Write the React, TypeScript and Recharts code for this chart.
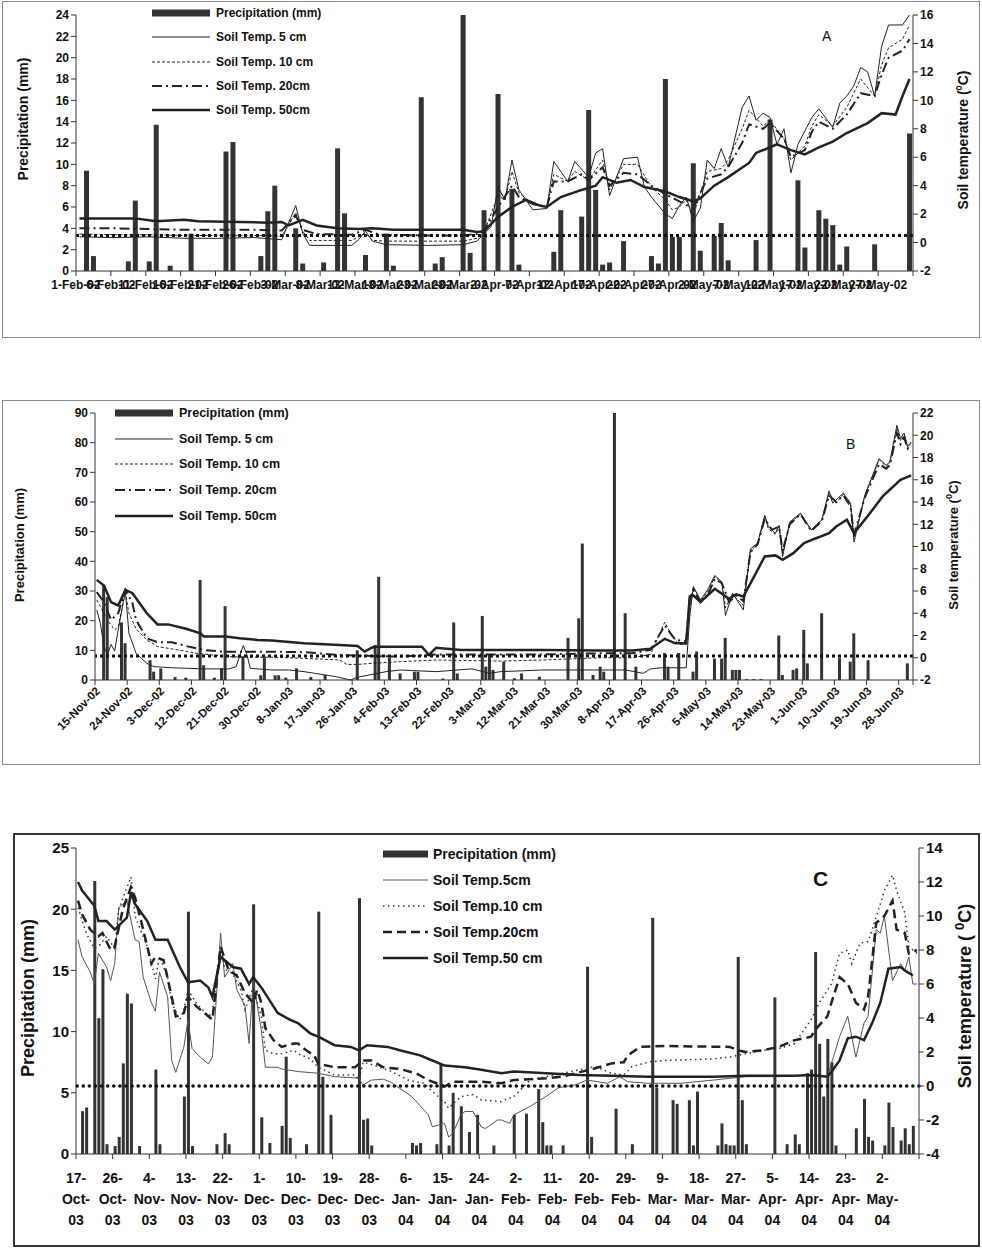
import React from 'react';
import { ComposedChart, Bar, Line, XAxis, YAxis, ReferenceLine, Legend } from 'recharts';

type Pt = [number, number];

const FONT = 'Arial, "Liberation Sans", Helvetica, sans-serif';

// ---------- Panel A: 1-Feb-02 .. 31-May-02 (day 0 = 1 Feb) ----------
const aDays = 120;
const aLabels = ['1-Feb-02', '6-Feb-02', '11-Feb-02', '16-Feb-02', '21-Feb-02', '26-Feb-02', '3-Mar-02', '8-Mar-02',
  '13-Mar-02', '18-Mar-02', '23-Mar-02', '28-Mar-02', '2-Apr-02', '7-Apr-02', '12-Apr-02', '17-Apr-02', '22-Apr-02',
  '27-Apr-02', '2-May-02', '7-May-02', '12-May-02', '17-May-02', '22-May-02', '27-May-02'];
const aPrecipTicks = [0, 2, 4, 6, 8, 10, 12, 14, 16, 18, 20, 22, 24];
const aTempTicks = [-2, 0, 2, 4, 6, 8, 10, 12, 14, 16];
const aPrecip: Pt[] = [[1, 9.4], [2, 1.4], [7, 0.9], [8, 6.6], [10, 0.9], [11, 13.7], [13, 0.5], [16, 3.5], [21, 11.2],
  [22, 12.1], [26, 1.4], [27, 5.6], [28, 8.0], [31, 4.0], [32, 0.7], [35, 0.8], [37, 11.5], [38, 5.4], [41, 1.5],
  [44, 3.5], [45, 0.5], [49, 16.3], [51, 0.7], [52, 1.3], [55, 24.0], [56, 1.7], [58, 5.7], [60, 16.6], [62, 7.7],
  [63, 0.6], [68, 1.8], [69, 5.7], [72, 5.1], [73, 15.1], [74, 7.6], [75, 0.6], [76, 0.8], [78, 2.8], [82, 1.4],
  [83, 0.7], [84, 18.0], [85, 3.2], [86, 3.2], [88, 10.1], [89, 1.9], [91, 3.3], [92, 4.5], [93, 1.0], [97, 2.9],
  [99, 14.2], [103, 8.5], [104, 2.2], [106, 5.7], [107, 4.9], [108, 4.3], [109, 0.6], [110, 2.3], [114, 2.5], [119, 12.9]];
const aT5: Pt[] = [[0, 0.4], [5, 0.35], [10, 0.4], [15, 0.3], [20, 0.3], [25, 0.35], [29, 0.2], [31, 2.6], [32, 0.65],
  [33, -0.2], [39, -0.2], [40, 0.2], [41, 0.8], [42, 0.1], [44, -0.15], [50, -0.2], [55, -0.15], [57, 0.1], [58, 0.65],
  [59, 1.1], [60, 3.9], [61, 3.0], [62, 5.8], [63, 3.7], [64, 3.0], [65, 2.3], [67, 2.4], [68, 5.7], [70, 4.3], [71, 5.7],
  [73, 4.6], [74, 6.3], [75, 6.6], [76, 3.3], [78, 5.9], [80, 6.0], [81, 3.9], [82, 3.2], [84, 2.0], [85, 1.7], [86, 2.6],
  [87, 3.2], [88, 1.5], [89, 2.4], [90, 5.8], [91, 5.2], [92, 6.6], [93, 5.3], [95, 9.5], [96, 10.3], [97, 8.6], [98, 9.1],
  [99, 8.8], [100, 6.9], [101, 8.0], [102, 4.9], [103, 6.9], [105, 8.8], [106, 9.4], [108, 8.1], [109, 9.8], [110, 10.3],
  [111, 11.0], [112, 12.3], [113, 12.0], [114, 10.3], [115, 13.8], [116, 15.3], [118, 15.3], [119, 16.0]];
const aT10: Pt[] = [[0, 0.6], [5, 0.55], [10, 0.55], [15, 0.5], [20, 0.5], [25, 0.5], [29, 0.45], [31, 2.1], [32, 0.8],
  [33, 0.15], [39, 0.15], [41, 0.65], [42, 0.15], [44, 0.1], [50, 0.1], [55, 0.1], [57, 0.3], [58, 0.7], [60, 3.3],
  [61, 3.0], [62, 5.0], [63, 3.5], [65, 2.7], [67, 2.5], [68, 4.8], [70, 4.3], [71, 5.0], [73, 4.4], [75, 5.8], [76, 3.7],
  [78, 5.5], [80, 5.5], [82, 3.9], [84, 3.0], [85, 2.3], [86, 2.5], [87, 3.0], [88, 1.9], [90, 5.0], [92, 5.2], [93, 5.8],
  [95, 8.0], [96, 9.3], [98, 8.2], [99, 8.6], [101, 7.3], [102, 5.8], [104, 6.8], [105, 8.2], [106, 9.0], [108, 8.2],
  [110, 9.5], [112, 11.5], [114, 10.3], [115, 12.5], [116, 13.7], [118, 14.3], [119, 15.3]];
const aT20: Pt[] = [[0, 1.0], [5, 1.0], [10, 0.95], [15, 0.9], [20, 0.9], [25, 0.9], [29, 0.85], [31, 1.9], [32, 0.9],
  [34, 0.6], [39, 0.55], [41, 0.9], [43, 0.55], [50, 0.5], [55, 0.5], [57, 0.6], [58, 0.8], [60, 2.5], [62, 4.0], [63, 3.2],
  [65, 2.7], [67, 2.5], [68, 4.3], [70, 4.3], [72, 4.8], [73, 4.4], [75, 5.3], [76, 4.0], [78, 4.9], [80, 4.8], [82, 4.0],
  [84, 3.4], [86, 2.9], [88, 2.4], [90, 4.5], [92, 4.8], [93, 5.3], [95, 7.0], [96, 8.3], [98, 8.0], [99, 8.4], [101, 7.3],
  [102, 6.0], [104, 6.5], [105, 7.8], [106, 8.5], [108, 8.0], [110, 9.0], [112, 10.5], [114, 10.3], [115, 11.8],
  [116, 13.0], [118, 13.5], [119, 14.3]];
const aT50: Pt[] = [[0, 1.7], [8, 1.7], [11, 1.5], [15, 1.6], [17, 1.5], [23, 1.45], [27, 1.4], [29, 1.45], [30, 1.2],
  [32, 1.6], [34, 1.2], [37, 1.0], [40, 0.95], [42, 1.0], [45, 0.9], [55, 0.9], [57, 0.75], [58, 0.8], [60, 1.8], [62, 2.5],
  [64, 3.0], [66, 2.6], [67, 2.5], [69, 3.2], [72, 3.7], [74, 4.0], [75, 4.6], [77, 4.2], [79, 4.4], [81, 3.9], [84, 3.6],
  [86, 3.2], [88, 2.9], [89, 3.1], [91, 4.0], [93, 4.6], [96, 5.6], [97, 6.3], [99, 6.7], [100, 6.9], [102, 6.5],
  [104, 6.2], [106, 6.7], [108, 7.1], [110, 7.7], [113, 8.4], [115, 9.1], [117, 9.0], [118, 10.3], [119, 11.5]];

// ---------- Panel B: 15-Nov-02 .. 1-Jul-03 (day 0 = 15 Nov) ----------
const bDays = 229;
const bLabels = ['15-Nov-02', '24-Nov-02', '3-Dec-02', '12-Dec-02', '21-Dec-02', '30-Dec-02', '8-Jan-03', '17-Jan-03',
  '26-Jan-03', '4-Feb-03', '13-Feb-03', '22-Feb-03', '3-Mar-03', '12-Mar-03', '21-Mar-03', '30-Mar-03', '8-Apr-03',
  '17-Apr-03', '26-Apr-03', '5-May-03', '14-May-03', '23-May-03', '1-Jun-03', '10-Jun-03', '19-Jun-03', '28-Jun-03'];
const bPrecipTicks = [0, 10, 20, 30, 40, 50, 60, 70, 80, 90];
const bTempTicks = [-2, 0, 2, 4, 6, 8, 10, 12, 14, 16, 18, 20, 22];
const bPrecip: Pt[] = [[2, 32], [3, 28], [7, 19.4], [8, 12.4], [15, 6.7], [16, 2.8], [18, 3.9], [22, 1.0], [25, 0.8],
  [29, 33.7], [30, 5.0], [33, 0.8], [35, 3.9], [36, 24.9], [41, 8], [46, 1.6], [47, 7.6], [50, 1.6], [51, 1.6], [53, 0.8],
  [56, 3.9], [60, 1.0], [64, 1.7], [73, 10], [78, 11.8], [79, 34.8], [82, 7.5], [85, 2.2], [89, 2.8], [90, 2.8], [97, 0.5],
  [100, 19.4], [101, 2.2], [108, 21.6], [109, 4.5], [110, 8.5], [111, 3.4], [114, 6.2], [117, 0.6], [119, 2.2], [124, 1.1],
  [132, 14.2], [135, 20.8], [136, 46], [139, 1.7], [141, 4.5], [142, 2.8], [145, 90], [148, 22.5], [151, 4.5], [159, 9.1],
  [160, 4.5], [163, 9.1], [167, 2.8], [168, 9.6], [173, 7.2], [175, 7.2], [176, 14.2], [178, 3.4], [179, 3.4], [180, 3.4],
  [182, 0.3], [184, 0.3], [186, 0.3], [191, 15.0], [192, 1.7], [195, 3.4], [196, 3.9], [198, 16.9], [199, 5.6], [203, 22.5],
  [208, 7.5], [211, 6.2], [212, 15.7], [216, 6.7], [227, 5.6]];
const bT5: Pt[] = [[0, 4.3], [1, 3.1], [2, 1.0], [3, 0.3], [4, 1.2], [5, 0.6], [6, 2.5], [8, 6.0], [9, 2.2], [11, 0.4],
  [14, -0.5], [16, -0.8], [21, -0.9], [30, -1.0], [37, -1.0], [39, -0.8], [41, 1.1], [42, 0.3], [43, -0.95], [49, -1.1],
  [54, -1.1], [58, -1.25], [61, -1.4], [67, -1.7], [71, -2.0], [73, -1.75], [77, -1.5], [81, -1.25], [85, -1.1],
  [95, -1.25], [105, -1.0], [110, -1.4], [113, -1.25], [125, -1.1], [141, -1.1], [148, -1.1], [153, -1.4], [155, -1.0],
  [158, -0.9], [165, -0.9], [166, 3.7], [167, 6.4], [169, 5.2], [171, 6.1], [173, 7.4], [175, 6.8], [176, 3.8], [178, 5.8],
  [181, 4.3], [183, 9.8], [185, 10.3], [187, 12.8], [188, 11.8], [190, 11.2], [191, 11.9], [192, 9.1], [194, 12.2],
  [197, 13.0], [200, 11.5], [203, 12.4], [205, 15.0], [206, 13.9], [209, 14.8], [211, 13.9], [212, 10.4], [215, 14.6],
  [219, 17.9], [221, 17.3], [222, 17.6], [224, 20.9], [225, 19.7], [226, 20.2], [227, 19.0], [228, 19.4]];
const bT10: Pt[] = [[0, 5.2], [1, 4.6], [3, 3.4], [5, 2.5], [6, 2.8], [8, 5.9], [9, 4.0], [11, 2.6], [14, 1.6], [17, 1.0],
  [21, 0.8], [28, 0.4], [35, 0.15], [40, 0.05], [49, 0.05], [58, -0.05], [68, -0.2], [70, -0.6], [73, -0.6], [77, -0.5],
  [85, -0.35], [95, -0.2], [113, -0.3], [125, -0.2], [141, 0.0], [150, 0.0], [155, 0.3], [159, 3.2], [161, 2.0], [163, 1.2],
  [165, 1.2], [166, 4.5], [167, 6.3], [169, 5.1], [171, 5.9], [173, 7.3], [175, 6.7], [176, 4.5], [178, 5.7], [181, 4.7],
  [183, 9.6], [185, 10.2], [187, 12.7], [188, 11.6], [190, 11.1], [191, 11.8], [192, 9.4], [194, 12.1], [197, 12.9],
  [200, 11.5], [203, 12.4], [205, 14.8], [207, 13.9], [209, 14.7], [211, 13.8], [212, 10.8], [215, 14.5], [219, 17.8],
  [221, 17.2], [222, 17.5], [224, 20.6], [225, 19.5], [226, 20.0], [227, 18.9], [228, 19.3]];
const bT20: Pt[] = [[0, 5.9], [2, 5.0], [4, 3.4], [6, 4.0], [8, 6.1], [10, 4.9], [11, 3.4], [14, 1.75], [17, 1.4],
  [21, 1.4], [25, 1.05], [30, 0.7], [35, 0.55], [49, 0.55], [58, 0.5], [68, 0.25], [77, 0.15], [85, 0.1], [95, 0.3],
  [125, 0.3], [141, 0.4], [150, 0.4], [155, 0.7], [159, 2.9], [162, 1.6], [165, 1.5], [166, 5.3], [167, 6.1], [169, 5.0],
  [171, 5.6], [173, 7.1], [175, 6.7], [177, 5.0], [179, 5.6], [181, 5.1], [183, 9.5], [185, 10.2], [187, 12.5], [189, 11.5],
  [191, 11.8], [192, 9.6], [194, 12.0], [197, 12.9], [200, 11.4], [203, 12.3], [205, 14.6], [207, 14.0], [209, 14.6],
  [211, 13.6], [212, 11.0], [215, 14.4], [219, 17.4], [221, 17.0], [222, 17.3], [224, 20.2], [225, 19.2], [226, 19.8],
  [227, 18.8], [228, 19.2]];
const bT50: Pt[] = [[0, 7.0], [2, 6.5], [4, 5.0], [6, 4.7], [8, 6.1], [10, 5.8], [12, 4.9], [14, 4.0], [17, 3.0], [20, 3.0],
  [25, 2.6], [29, 2.2], [30, 1.9], [36, 1.9], [40, 1.75], [45, 1.6], [49, 1.55], [58, 1.3], [68, 1.15], [73, 1.05],
  [75, 0.55], [77, 0.9], [78, 1.0], [85, 1.0], [91, 1.0], [93, 0.25], [95, 0.9], [102, 0.7], [113, 0.7], [125, 0.7],
  [141, 0.65], [150, 0.65], [155, 0.8], [159, 1.7], [162, 1.3], [165, 1.3], [166, 5.5], [167, 5.6], [169, 5.0], [173, 6.2],
  [177, 5.3], [179, 5.7], [181, 5.5], [184, 7.3], [187, 9.1], [190, 9.2], [192, 8.8], [195, 9.4], [198, 10.3], [201, 10.7],
  [205, 11.2], [207, 11.8], [210, 12.4], [212, 11.2], [216, 12.8], [220, 14.5], [225, 16.0], [228, 16.4]];

// ---------- Panel C: 17-Oct-03 .. 11-May-04 (day 0 = 17 Oct) ----------
const cDays = 207;
const cLabels = ['17-Oct-03', '26-Oct-03', '4-Nov-03', '13-Nov-03', '22-Nov-03', '1-Dec-03', '10-Dec-03', '19-Dec-03',
  '28-Dec-03', '6-Jan-04', '15-Jan-04', '24-Jan-04', '2-Feb-04', '11-Feb-04', '20-Feb-04', '29-Feb-04', '9-Mar-04',
  '18-Mar-04', '27-Mar-04', '5-Apr-04', '14-Apr-04', '23-Apr-04', '2-May-04'];
const cPrecipTicks = [0, 5, 10, 15, 20, 25];
const cTempTicks = [-4, -2, 0, 2, 4, 6, 8, 10, 12, 14];
const cPrecip: Pt[] = [[1, 3.5], [2, 3.8], [4, 22.3], [5, 11.1], [6, 15.1], [7, 0.8], [9, 0.65], [10, 1.4], [11, 7.4],
  [12, 13.1], [13, 12.3], [15, 0.65], [19, 6.9], [20, 0.8], [26, 4.7], [27, 19.8], [28, 0.65], [34, 0.8], [36, 1.7],
  [37, 0.8], [43, 20.4], [45, 3.0], [47, 0.9], [50, 2.3], [51, 7.95], [52, 1.3], [56, 0.8], [59, 19.8], [60, 6.3], [62, 3.2],
  [69, 20.9], [70, 2.8], [71, 2.9], [72, 0.7], [82, 0.9], [83, 0.7], [84, 0.9], [88, 0.8], [89, 7.4], [91, 0.7], [92, 5.0],
  [94, 3.9], [96, 1.8], [98, 3.2], [102, 0.7], [107, 3.2], [110, 3.3], [113, 5.3], [114, 2.6], [115, 0.7], [116, 0.7],
  [119, 0.7], [125, 15.3], [126, 1.4], [132, 3.7], [136, 0.8], [141, 19.3], [142, 5.4], [146, 4.4], [147, 4.1], [150, 4.4],
  [151, 0.7], [152, 5.1], [157, 0.7], [158, 2.5], [159, 0.8], [160, 0.7], [161, 0.7], [162, 16.1], [163, 4.4], [164, 0.8],
  [171, 12.8], [174, 0.8], [176, 1.6], [177, 0.8], [179, 6.6], [180, 6.9], [181, 16.5], [182, 9.0], [183, 4.7], [184, 9.4],
  [185, 7.5], [186, 0.7], [191, 2.1], [193, 4.5], [194, 1.4], [195, 1.1], [198, 0.7], [199, 4.2], [200, 2.2], [202, 1.1],
  [203, 2.1], [204, 0.8], [205, 2.3]];
const cT5: Pt[] = [[0, 8.6], [1, 7.6], [3, 6.7], [4, 6.0], [5, 7.8], [7, 7.0], [8, 6.2], [9, 7.2], [10, 10.5], [12, 10.9],
  [14, 8.6], [15, 8.5], [16, 6.4], [18, 4.9], [19, 4.4], [20, 6.7], [22, 5.25], [23, 1.5], [24, 0.8], [26, 2.3], [27, 3.9],
  [28, 2.2], [30, 1.7], [32, 1.3], [33, 1.7], [35, 9.0], [36, 6.4], [38, 7.2], [39, 5.65], [41, 4.7], [42, 2.5], [43, 6.2],
  [45, 3.3], [46, 1.1], [49, 1.1], [50, 1.0], [54, 0.85], [59, 0.75], [63, 0.55], [67, 0.5], [69, 0.45], [70, 0.06],
  [72, 0.35], [75, 0.4], [77, 0.2], [79, -0.14], [82, -0.63], [86, -1.7], [87, -2.4], [90, -2.2], [91, -3.0], [92, -2.8],
  [94, -1.7], [95, -1.5], [97, -1.5], [99, -2.4], [100, -2.5], [103, -2.0], [104, -2.0], [106, -2.2], [107, -1.7],
  [111, -1.2], [115, -0.6], [118, -0.1], [122, 0.06], [125, 0.35], [130, 0.16], [133, 0.55], [135, 0.25], [140, 0.16],
  [148, 0.16], [156, 0.35], [164, 0.55], [172, 0.55], [180, 0.65], [184, 0.55], [185, 1.33], [187, 2.9], [189, 4.1],
  [190, 2.9], [191, 1.7], [193, 3.7], [194, 4.1], [196, 9.2], [197, 9.0], [198, 10.0], [200, 6.2], [202, 7.2], [203, 6.8],
  [204, 7.6], [205, 6.0], [206, 6.0]];
const cT10: Pt[] = [[0, 10.5], [2, 9.0], [4, 8.1], [5, 8.2], [7, 8.8], [9, 8.1], [10, 10.4], [13, 12.3], [14, 10.0],
  [17, 8.2], [19, 6.3], [20, 7.6], [22, 6.4], [23, 4.9], [25, 3.9], [26, 4.5], [27, 5.65], [29, 4.9], [32, 4.1], [33, 4.3],
  [35, 8.2], [36, 6.9], [38, 6.6], [40, 5.65], [41, 4.5], [43, 5.8], [45, 4.1], [46, 2.1], [48, 1.9], [50, 1.9], [53, 2.1],
  [54, 1.9], [57, 1.6], [59, 1.1], [63, 0.65], [68, 0.65], [69, 0.35], [70, 1.4], [73, 1.2], [77, 0.85], [81, 0.35],
  [85, 0.16], [87, -0.33], [90, -0.92], [91, -1.3], [94, -0.63], [97, -0.5], [99, -0.82], [104, -0.92], [105, -0.8],
  [107, -0.63], [111, 0.35], [115, 0.55], [119, 0.75], [123, 0.95], [127, 1.14], [131, 0.75], [134, 0.65], [136, 1.14],
  [140, 1.4], [144, 1.5], [156, 1.6], [160, 1.7], [164, 1.9], [168, 2.1], [172, 2.2], [176, 2.5], [180, 3.9], [182, 4.9],
  [185, 6.0], [187, 7.8], [189, 8.0], [190, 7.2], [192, 8.4], [194, 8.5], [195, 9.2], [197, 10.7], [198, 11.5],
  [200, 12.4], [201, 11.5], [203, 10.2], [204, 8.2], [206, 7.8]];
const cT20: Pt[] = [[0, 10.9], [1, 10.1], [3, 9.2], [5, 8.8], [6, 9.0], [8, 8.0], [9, 8.2], [11, 10.4], [13, 11.7],
  [14, 11.1], [16, 9.2], [18, 7.2], [19, 7.6], [21, 7.4], [23, 5.25], [24, 4.1], [26, 4.3], [27, 5.25], [29, 4.7], [32, 4.1],
  [33, 3.9], [35, 8.2], [37, 6.8], [39, 6.5], [41, 5.45], [43, 4.9], [44, 5.65], [45, 4.9], [46, 3.4], [48, 2.7], [50, 2.3],
  [53, 2.5], [54, 2.5], [56, 2.1], [58, 1.8], [59, 1.3], [63, 1.1], [68, 1.1], [70, 1.5], [72, 1.5], [75, 1.1], [79, 1.0],
  [83, 0.75], [86, 0.35], [88, 0.16], [90, -0.04], [92, 0.25], [99, 0.25], [104, 0.16], [107, 0.35], [115, 0.45],
  [119, 0.55], [123, 0.8], [127, 1.04], [131, 1.33], [134, 1.4], [135, 1.8], [138, 2.3], [144, 2.35], [160, 2.3], [162, 2.1],
  [164, 2.0], [168, 2.1], [172, 2.3], [176, 2.7], [180, 2.9], [181, 3.3], [184, 4.1], [185, 4.9], [187, 6.4], [189, 6.0],
  [191, 4.9], [193, 4.5], [194, 5.25], [196, 9.6], [198, 10.0], [200, 10.9], [201, 9.2], [203, 9.0], [204, 7.8], [206, 8.0]];
const cT50: Pt[] = [[0, 12.0], [1, 11.5], [4, 10.6], [5, 9.7], [7, 9.7], [9, 9.2], [12, 9.9], [13, 11.4], [14, 10.7],
  [17, 9.7], [19, 8.6], [22, 8.6], [25, 7.0], [27, 6.1], [30, 6.2], [32, 5.8], [33, 5.25], [35, 7.6], [38, 7.0], [40, 6.9],
  [42, 6.0], [43, 6.4], [45, 5.8], [49, 4.3], [52, 3.9], [54, 3.7], [57, 3.1], [59, 2.9], [63, 2.4], [67, 2.3], [69, 2.1],
  [71, 2.4], [76, 2.3], [79, 2.1], [84, 1.8], [87, 1.5], [90, 1.2], [95, 1.1], [99, 0.95], [104, 0.75], [107, 0.85],
  [115, 0.75], [123, 0.65], [131, 0.6], [140, 0.55], [156, 0.55], [164, 0.6], [176, 0.6], [180, 0.65], [184, 0.55],
  [185, 0.84], [187, 1.5], [189, 2.8], [191, 2.9], [193, 2.7], [195, 3.7], [197, 4.9], [199, 6.9], [202, 7.0], [203, 6.8],
  [205, 6.5]];

const legendAB = ['Precipitation (mm)', 'Soil Temp. 5 cm', 'Soil Temp. 10 cm', 'Soil Temp. 20cm', 'Soil Temp. 50cm'];
const legendC = ['Precipitation (mm)', 'Soil Temp.5cm', 'Soil Temp.10 cm', 'Soil Temp.20cm', 'Soil Temp.50 cm'];

interface LineStyle { color: string; width: number; dash?: string }

const styleAB: LineStyle[] = [
  { color: '#222', width: 1 },
  { color: '#222', width: 1, dash: '3 2' },
  { color: '#222', width: 2, dash: '10 4 2 4' },
  { color: '#222', width: 2.5 },
];
const styleC: LineStyle[] = [
  { color: '#555', width: 1 },
  { color: '#333', width: 1.5, dash: '1.5 3.5' },
  { color: '#222', width: 2.5, dash: '9 5' },
  { color: '#222', width: 2.5 },
];

// merge all series on one day axis; values sit in the middle of their day
function buildRows(series: Record<string, Pt[]>) {
  const byX = new Map<number, Record<string, number>>();
  Object.entries(series).forEach(([key, pts]) => {
    pts.forEach(([d, v]) => {
      const x = d + 0.5;
      const row = byX.get(x) ?? { x };
      row[key] = v;
      byX.set(x, row);
    });
  });
  return Array.from(byX.values()).sort((a, b) => a.x - b.x);
}

// only ticks that fall on a label step get a label (the closing tick stays bare)
function labelFor(labels: string[], step: number, value: number) {
  if (value % step !== 0) return '';
  return labels[value / step] ?? '';
}

const tickA = (labels: string[], step: number) => (props: any) => {
  const { x, y, payload } = props;
  return (
    <text x={x} y={y} dy={11} textAnchor="middle" fontSize={12} fontWeight="bold" fontFamily={FONT} fill="#111">
      {labelFor(labels, step, payload.value)}
    </text>
  );
};

const tickB = (labels: string[], step: number) => (props: any) => {
  const { x, y, payload } = props;
  return (
    <g transform={`translate(${x + 3},${y + 2})`}>
      <text x={0} y={0} dy={4} textAnchor="end" transform="rotate(-45)" fontSize={11.5} fontWeight="bold"
        fontFamily={FONT} fill="#111">
        {labelFor(labels, step, payload.value)}
      </text>
    </g>
  );
};

const tickC = (labels: string[], step: number) => (props: any) => {
  const { x, y, payload } = props;
  const label = labelFor(labels, step, payload.value);
  if (!label) return <g />;
  const [dd, mm, yy] = label.split('-');
  return (
    <text x={x} y={y} textAnchor="middle" fontSize={14} fontWeight="bold" fontFamily={FONT} fill="#111">
      <tspan x={x} dy={22}>{dd}-</tspan>
      <tspan x={x} dy={21}>{mm}-</tspan>
      <tspan x={x} dy={21}>{yy}</tspan>
    </text>
  );
};

function LegendBox({ names, styles, symW, gap, rowH, font }: any) {
  return (
    <div style={{ fontFamily: FONT, fontWeight: 'bold', fontSize: font, color: '#111' }}>
      {names.map((n: string, i: number) => {
        const s: LineStyle | undefined = i === 0 ? undefined : styles[i - 1];
        return (
          <div key={n} style={{ display: 'flex', alignItems: 'center', height: rowH }}>
            <svg width={symW} height={10} style={{ marginRight: gap, flex: 'none' }}>
              {s ? (
                <line x1={0} x2={symW} y1={5} y2={5} stroke={s.color} strokeWidth={Math.max(s.width, 1.2)}
                  strokeDasharray={s.dash} />
              ) : (
                <rect x={0} y={1.5} width={symW} height={7} fill="#333" />
              )}
            </svg>
            <span style={{ whiteSpace: 'nowrap' }}>{n}</span>
          </div>
        );
      })}
    </div>
  );
}

interface PanelDef {
  top: number;
  height: number;
  margin: { top: number; right: number; bottom: number; left: number };
  axisW: number;
  xAxisH: number;
  days: number;
  step: number;
  labels: string[];
  pTicks: number[];
  tTicks: number[];
  precip: Pt[];
  temps: Pt[][];
  barSize: number;
  styles: LineStyle[];
  zero: { y: number; dash: string; width: number; cap: 'round' | 'butt' };
  yFont: number;
  xTick: (labels: string[], step: number) => (p: any) => any;
  legend: { left: number; top: number; rowH: number; symW: number; gap: number; font: number; names: string[] };
}

function Panel({ d }: { d: PanelDef }) {
  const keys = ['t5', 't10', 't20', 't50'];
  const rows = buildRows({ p: d.precip, t5: d.temps[0], t10: d.temps[1], t20: d.temps[2], t50: d.temps[3] });
  const xTicks = [...d.labels.map((_, i) => i * d.step), d.days];
  const yTick = { fontSize: d.yFont, fontWeight: 'bold', fill: '#111', fontFamily: FONT };
  return (
    <div style={{ position: 'absolute', left: 0, top: d.top }}>
      <ComposedChart width={982} height={d.height} data={rows} margin={d.margin}>
        <XAxis type="number" dataKey="x" domain={[0, d.days]} ticks={xTicks} interval={0} tick={d.xTick(d.labels, d.step)}
          tickSize={5} height={d.xAxisH} stroke="#333" />
        <YAxis yAxisId="p" domain={[d.pTicks[0], d.pTicks[d.pTicks.length - 1]]} ticks={d.pTicks} interval={0}
          width={d.axisW} tick={yTick} tickSize={5} stroke="#333" />
        <YAxis yAxisId="t" orientation="right" domain={[d.tTicks[0], d.tTicks[d.tTicks.length - 1]]} ticks={d.tTicks}
          interval={0} width={d.axisW} tick={yTick} tickSize={5} stroke="#333" />
        {keys.map((k, i) => (
          <Line key={k} yAxisId="t" dataKey={k} type="linear" stroke={d.styles[i].color} strokeWidth={d.styles[i].width}
            strokeDasharray={d.styles[i].dash} dot={false} activeDot={false} connectNulls isAnimationActive={false} />
        ))}
        <Bar yAxisId="p" dataKey="p" barSize={d.barSize} fill="#333" isAnimationActive={false} />
        <ReferenceLine yAxisId="t" y={d.zero.y} stroke="#111" strokeWidth={d.zero.width}
          strokeDasharray={d.zero.dash} strokeLinecap={d.zero.cap} />
        <Legend layout="horizontal" verticalAlign="middle" align="center"
          wrapperStyle={{ left: d.legend.left, top: d.legend.top, width: 320 }}
          content={() => (
            <LegendBox names={d.legend.names} styles={d.styles} symW={d.legend.symW} gap={d.legend.gap}
              rowH={d.legend.rowH} font={d.legend.font} />
          )} />
      </ComposedChart>
    </div>
  );
}

const panelA: PanelDef = {
  top: 0, height: 340, margin: { top: 15, right: 19, bottom: 39, left: 26 }, axisW: 50, xAxisH: 30,
  days: aDays, step: 5, labels: aLabels, pTicks: aPrecipTicks, tTicks: aTempTicks, precip: aPrecip,
  temps: [aT5, aT10, aT20, aT50], barSize: 5, styles: styleAB,
  zero: { y: 0.5, dash: '3 3', width: 3, cap: 'butt' }, yFont: 12, xTick: tickA,
  legend: { left: 152, top: 1, rowH: 24.3, symW: 58, gap: 6, font: 12, names: legendAB },
};

const panelB: PanelDef = {
  top: 390, height: 390, margin: { top: 23, right: 19, bottom: 30, left: 45 }, axisW: 50, xAxisH: 70,
  days: bDays, step: 9, labels: bLabels, pTicks: bPrecipTicks, tTicks: bTempTicks, precip: bPrecip,
  temps: [bT5, bT10, bT20, bT50], barSize: 3, styles: styleAB,
  zero: { y: 0.15, dash: '3 3', width: 3, cap: 'butt' }, yFont: 12, xTick: tickB,
  legend: { left: 115, top: 10, rowH: 25.7, symW: 58, gap: 6, font: 12.5, names: legendAB },
};

const panelC: PanelDef = {
  top: 830, height: 420, margin: { top: 18, right: 13, bottom: 16, left: 26 }, axisW: 50, xAxisH: 80,
  days: cDays, step: 9, labels: cLabels, pTicks: cPrecipTicks, tTicks: cTempTicks, precip: cPrecip,
  temps: [cT5, cT10, cT20, cT50], barSize: 3, styles: styleC,
  zero: { y: 0, dash: '0.1 6', width: 3.5, cap: 'round' }, yFont: 15, xTick: tickC,
  legend: { left: 383, top: 11, rowH: 26, symW: 45, gap: 5, font: 14, names: legendC },
};

function VTitle({ x, y, size, children }: any) {
  return (
    <div style={{
      position: 'absolute', left: x, top: y, transform: 'translate(-50%, -50%) rotate(-90deg)', whiteSpace: 'nowrap',
      fontFamily: FONT, fontWeight: 'bold', fontSize: size, color: '#111',
    }}>
      {children}
    </div>
  );
}

function Box({ x, y, w, h, border }: any) {
  return <div style={{ position: 'absolute', left: x, top: y, width: w, height: h, border, boxSizing: 'border-box' }} />;
}

export default function App() {
  const sup = (s: number) => <sup style={{ fontSize: s, verticalAlign: 'super', lineHeight: 0 }}>0</sup>;
  return (
    <div style={{ position: 'absolute', left: 0, top: 0, width: 982, height: 1250, background: '#fff', overflow: 'hidden' }}>
      <Box x={2} y={1} w={978} h={337} border="1.5px solid #8a8a8a" />
      <Box x={2} y={400} w={978} h={365} border="1.5px solid #8a8a8a" />
      <Box x={13} y={833} w={967} h={414} border="2px solid #333" />

      <Panel d={panelA} />
      <Panel d={panelB} />
      <Panel d={panelC} />

      <VTitle x={23} y={119} size={14}>Precipitation (mm)</VTitle>
      <VTitle x={963} y={140} size={14}>Soil temperature ({sup(9)}C)</VTitle>
      <VTitle x={19} y={545} size={13}>Precipitation (mm)</VTitle>
      <VTitle x={953} y={545} size={13}>Soil temperature ({sup(9)}C)</VTitle>
      <VTitle x={28} y={998} size={18}>Precipitation (mm)</VTitle>
      <VTitle x={965} y={996} size={18}>Soil temperature ( {sup(13)}C)</VTitle>

      <div style={{ position: 'absolute', left: 822, top: 28, fontFamily: FONT, fontSize: 14, color: '#111' }}>A</div>
      <div style={{ position: 'absolute', left: 846, top: 436, fontFamily: FONT, fontSize: 14, color: '#111' }}>B</div>
      <div style={{ position: 'absolute', left: 813, top: 867, fontFamily: FONT, fontSize: 21, fontWeight: 'bold', color: '#111' }}>C</div>
    </div>
  );
}
